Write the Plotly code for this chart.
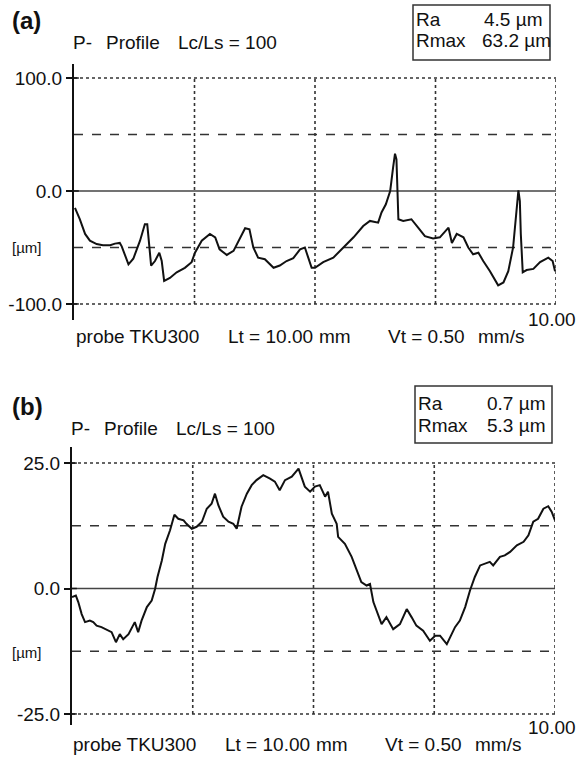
import plotly.graph_objects as go

W, H = 581, 761

# ---------------- data ----------------
# Panel (a): profile, x in mm, y in µm
a_x = [0.02, 0.12, 0.23, 0.33, 0.47, 0.60, 0.75, 0.85, 0.95, 0.99, 1.13, 1.23, 1.37, 1.47, 1.52,
       1.56, 1.60, 1.68, 1.77, 1.82, 1.87, 1.99, 2.13, 2.30, 2.44, 2.51, 2.65, 2.82, 2.93, 3.02,
       3.17, 3.31, 3.44, 3.55, 3.64, 3.72, 3.82, 3.96, 4.14, 4.27, 4.41, 4.55, 4.69, 4.79, 4.86,
       4.93, 5.00, 5.17, 5.38, 5.59, 5.80, 6.00, 6.14, 6.31, 6.38, 6.47, 6.56, 6.62, 6.66, 6.69,
       6.71, 6.73, 6.83, 7.00, 7.14, 7.28, 7.45, 7.59, 7.77, 7.84, 7.94, 8.08, 8.18, 8.28, 8.39,
       8.49, 8.63, 8.80, 8.91, 9.01, 9.11, 9.18, 9.22, 9.25, 9.27, 9.31, 9.39, 9.53, 9.67, 9.84,
       9.93, 9.98]
a_y = [-15, -25, -38, -44, -47, -48, -48, -46.6, -46, -49, -65, -60, -44, -29.5, -29.5,
       -47, -66, -62, -54.6, -62, -79.6, -77, -72, -68, -63, -54.6, -44, -38, -41, -51.6,
       -56.6, -53, -42.8, -33, -34, -50, -59, -60.4, -68, -66, -62, -59.5, -51.6, -50, -59,
       -68, -68, -63, -59, -50, -41, -31, -26.5, -28, -19, -11.8, 0, 20.6, 33, 28,
       3, -25, -26.5, -25, -32.5, -40, -42, -41, -32.5, -46, -38, -41, -50, -56, -54.6,
       -62, -71, -83.5, -81, -71, -50, -17.7, 0.6, -9, -38, -72, -70, -69, -63, -59,
       -62, -71]

# Panel (b): profile, x in mm, y in µm
b_x = [0.00, 0.08, 0.13, 0.20, 0.27, 0.37, 0.44, 0.51, 0.61, 0.72, 0.82, 0.91, 0.99, 1.06, 1.17,
       1.30, 1.37, 1.44, 1.55, 1.65, 1.72, 1.77, 1.86, 1.93, 2.03, 2.12, 2.20, 2.31, 2.37, 2.48,
       2.58, 2.69, 2.79, 2.89, 2.96, 3.03, 3.13, 3.24, 3.34, 3.41, 3.51, 3.62, 3.72, 3.82, 3.96,
       4.10, 4.20, 4.30, 4.41, 4.55, 4.69, 4.82, 4.93, 5.03, 5.13, 5.24, 5.30, 5.38, 5.48, 5.51,
       5.65, 5.79, 5.89, 5.99, 6.10, 6.17, 6.24, 6.34, 6.41, 6.51, 6.65, 6.79, 6.93, 7.03, 7.13,
       7.27, 7.41, 7.52, 7.62, 7.76, 7.83, 7.93, 8.03, 8.14, 8.24, 8.34, 8.45, 8.55, 8.65, 8.72,
       8.86, 8.96, 9.07, 9.21, 9.35, 9.45, 9.55, 9.65, 9.76, 9.86, 9.93, 10.00]
b_y = [-1.7, -1.4, -2.7, -5.1, -6.7, -6.4, -6.7, -7.4, -7.7, -8.3, -8.7, -10.7, -9.1, -10.1, -9.1,
       -6.7, -8.7, -6.4, -3.7, -2.4, -0.1, 2.3, 5.6, 8.9, 11.6, 14.7, 13.9, 13.6, 12.9, 11.9,
       12.3, 13.3, 15.9, 16.9, 18.9, 16.6, 14.3, 13.3, 12.9, 11.9, 16.3, 18.9, 20.6, 21.6, 22.6,
       21.9, 21.3, 19.6, 21.6, 22.3, 23.9, 20.3, 19.3, 20.3, 20.6, 18.3, 19.3, 14.9, 12.9, 10.3,
       8.9, 6.3, 3.6, 1.3, 0.6, 0.9, -2.7, -5.1, -7.1, -5.7, -8.1, -7.1, -4.1, -5.7, -7.4,
       -8.4, -10.4, -9.4, -9.4, -11.1, -9.7, -7.7, -6.4, -3.7, -0.4, 2.3, 4.6, 4.9, 5.3, 4.6,
       6.3, 6.6, 7.3, 8.6, 9.3, 10.6, 13.3, 13.9, 15.9, 16.4, 15.3, 13.6]

a_ticks = [100, 0, -100]
a_ticktext = ["100.0", "0.0", "-100.0"]
a_grid_v = [2.5, 5, 7.5, 10]
a_grid_h = [100, 50, -50, -100]
b_ticks = [25, 0, -25]
b_ticktext = ["25.0", "0.0", "-25.0"]
b_grid_v = [2.5, 5, 7.5, 10]
b_grid_h = [25, 12.5, -12.5, -25]

# ---------------- helpers ----------------
def px(x):
    return x / W

def py(y):
    return 1 - y / H

FONT = "Liberation Sans, Arial, sans-serif"
INK = "#111111"
FS = 19

fig = go.Figure()
fig.add_trace(go.Scatter(x=a_x, y=a_y, mode="lines", xaxis="x", yaxis="y",
                         line=dict(color="#111", width=2), showlegend=False))
fig.add_trace(go.Scatter(x=b_x, y=b_y, mode="lines", xaxis="x2", yaxis="y2",
                         line=dict(color="#111", width=2), showlegend=False))

shapes = []
annotations = []

def grid(xref, yref, vlist, hlist, ylo, yhi, dotted_h, ticks):
    for v in vlist:
        shapes.append(dict(type="line", xref=xref, yref=yref, x0=v, x1=v, y0=ylo, y1=yhi,
                           line=dict(color="#333", width=1.6, dash="dot"), layer="below"))
    for h in hlist:
        dash = "dot" if h in dotted_h else "dash"
        shapes.append(dict(type="line", xref=xref, yref=yref, x0=0, x1=10, y0=h, y1=h,
                           line=dict(color="#333", width=1.4, dash=dash), layer="below"))
    shapes.append(dict(type="line", xref=xref, yref=yref, x0=0, x1=10, y0=0, y1=0,
                       line=dict(color="#444", width=1.3), layer="below"))
    # tick marks crossing to the right side of the axis
    for t in ticks:
        shapes.append(dict(type="line", xref=xref, yref=yref, x0=0, x1=0.1, y0=t, y1=t,
                           line=dict(color="#111", width=1.5)))

grid("x", "y", a_grid_v, a_grid_h, -100, 100, (100, -100), a_ticks)
grid("x2", "y2", b_grid_v, b_grid_h, -25, 25, (25, -25), b_ticks)

def text(s, x, y, size=FS, anchor="left", bold=False):
    annotations.append(dict(text=("<b>%s</b>" % s) if bold else s, x=px(x), y=py(y),
                            xref="paper", yref="paper", xanchor=anchor, yanchor="middle",
                            showarrow=False, font=dict(family=FONT, size=size, color=INK)))

def box(x0, y0, x1, y1):
    shapes.append(dict(type="rect", xref="paper", yref="paper", x0=px(x0), x1=px(x1),
                       y0=py(y1), y1=py(y0), line=dict(color="#333", width=1.5)))

def header(label, ylab, ytitle, xt):
    text(label, 10, ylab, size=24, bold=True)
    text("P-", xt, ytitle)
    text("Profile", xt + 33, ytitle)
    text("Lc/Ls = 100", xt + 105, ytitle)

def footer(y, dx):
    text("10.00", 578, y - 17, anchor="right")
    text("probe TKU300", 74 + dx, y)
    text("Lt = 10.00", 226 + dx, y)
    text("mm", 317 + dx, y)
    text("Vt = 0.50", 386 + dx, y)
    text("mm/s", 476 + dx, y)

# Panel (a) texts
header("(a)", 21, 43, 71)
box(413, 5, 550, 60)
text("Ra", 414, 20)
text("4.5 µm", 544, 20, anchor="right")
text("Rmax", 414, 41)
text("63.2 µm", 553, 41, anchor="right")
text("[µm]", 10, 247, size=15)
footer(336, 0)

# Panel (b) texts
header("(b)", 406, 428, 69)
box(415, 386, 552, 443)
text("Ra", 416, 403)
text("0.7 µm", 547, 403, anchor="right")
text("Rmax", 416, 425)
text("5.3 µm", 547, 425, anchor="right")
text("[µm]", 10, 652, size=15)
footer(744, -3)

xcommon = dict(range=[0, 10], showgrid=False, zeroline=False, showticklabels=False,
               ticks="", showline=False, fixedrange=True)
ycommon = dict(showgrid=False, zeroline=False, showline=True, linecolor="#111", linewidth=2,
               ticks="outside", ticklen=6, tickwidth=1.5, tickcolor="#111",
               tickfont=dict(family=FONT, size=FS, color=INK), fixedrange=True)

fig.update_layout(
    width=W, height=H,
    margin=dict(l=0, r=0, t=0, b=0),
    paper_bgcolor="white", plot_bgcolor="white",
    xaxis=dict(domain=[px(74), px(556)], anchor="y", **xcommon),
    yaxis=dict(domain=[py(320), py(64)], anchor="x", range=[-114.2, 112.4],
               tickvals=a_ticks, ticktext=a_ticktext, **ycommon),
    xaxis2=dict(domain=[px(72), px(555)], anchor="y2", **xcommon),
    yaxis2=dict(domain=[py(725), py(447)], anchor="x2", range=[-27.2, 28.2],
                tickvals=b_ticks, ticktext=b_ticktext, **ycommon),
    shapes=shapes,
    annotations=annotations,
    showlegend=False,
)

fig.write_html("out.html")
